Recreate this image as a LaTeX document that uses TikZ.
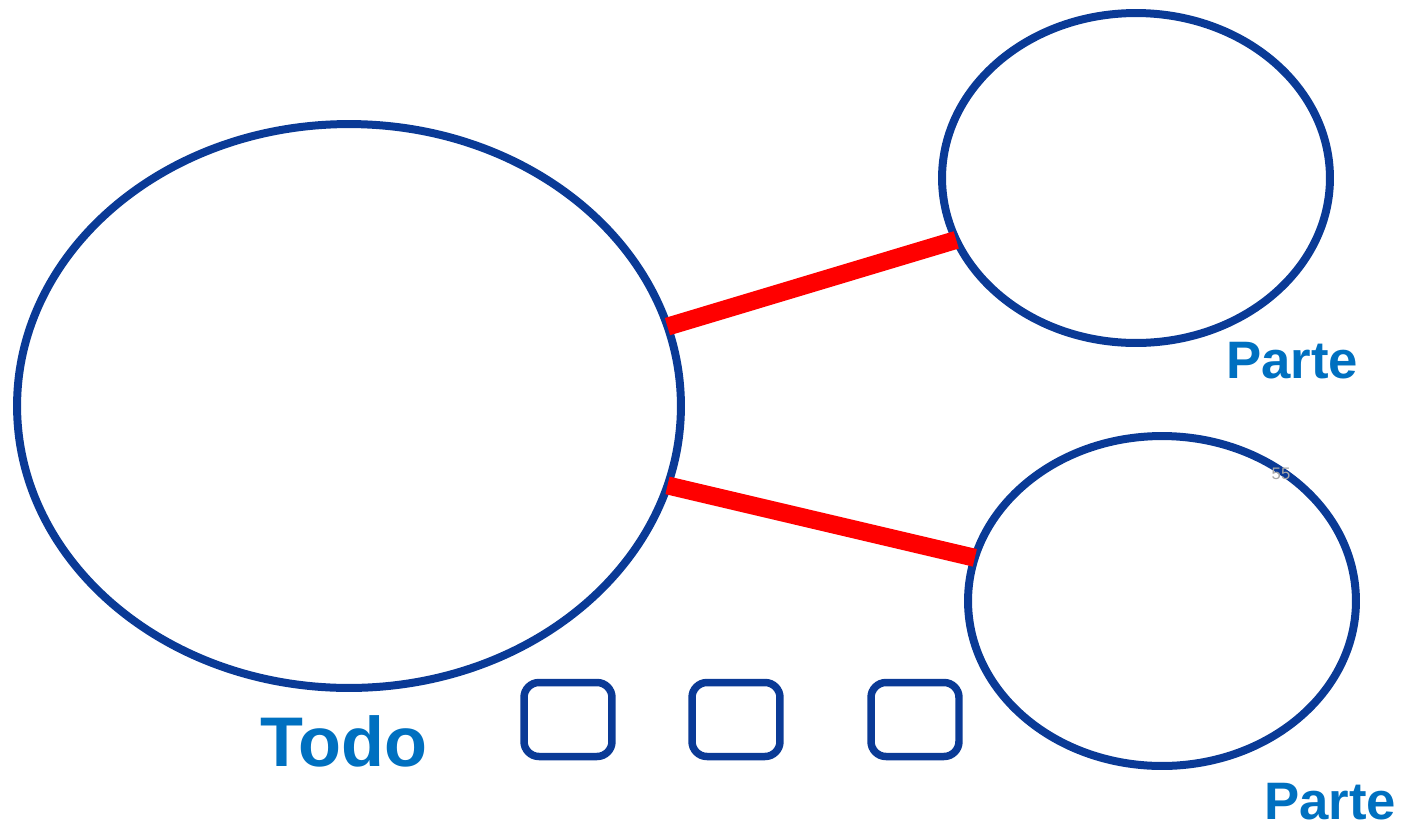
\documentclass[tikz,border=0pt]{standalone}
\usepackage{fontspec}
\setsansfont{Liberation Sans}
\usetikzlibrary{shapes.geometric}

\definecolor{bordeazul}{HTML}{0A3A96}
\definecolor{textoazul}{HTML}{0070C0}

\begin{document}
\begin{tikzpicture}[
    x=0.02cm, y=-0.02cm,
    font=\sffamily\bfseries,
    conjunto/.style={draw=bordeazul, ellipse, line width=0.16cm, inner sep=0pt, outer sep=0pt},
    caja/.style={draw=bordeazul, rectangle, rounded corners=0.3cm, line width=0.15cm, minimum width=1.76cm, minimum height=1.48cm},
    enlace/.style={draw=red, line width=0.36cm},
    etiqueta/.style={text=textoazul, anchor=base, inner sep=0pt}
  ]
  \useasboundingbox (0,0) rectangle (1404,826);

  % conjuntos
  \node[conjunto, minimum width=13.28cm, minimum height=11.28cm] (todo) at (349,406) {};
  \node[conjunto, minimum width=7.76cm, minimum height=6.6cm] (parteA) at (1136,178) {};
  \node[conjunto, minimum width=7.76cm, minimum height=6.6cm] (parteB) at (1162,601) {};

  % cajas
  \node[caja] (cajaA) at (568,719.5) {};
  \node[caja] (cajaB) at (736,719.5) {};
  \node[caja] (cajaC) at (915,719.5) {};

  % enlaces
  \draw[enlace] (todo.14.5) -- (parteA.199.8);
  \draw[enlace] (todo.-14.5) -- (parteB.167.1);

  % textos
  \node[etiqueta, font=\sffamily\bfseries\fontsize{40}{40}\selectfont] (txtTodo) at (344,766) {Todo};
  \node[etiqueta, font=\sffamily\bfseries\fontsize{30}{30}\selectfont] (txtParteA) at (1292,378) {Parte};
  \node[etiqueta, font=\sffamily\bfseries\fontsize{30}{30}\selectfont] (txtParteB) at (1330,819) {Parte};
  \node[text=gray!70, font=\sffamily\fontsize{9.5}{9.5}\selectfont, inner sep=0pt] (num) at (1281,474) {55};
\end{tikzpicture}
\end{document}
